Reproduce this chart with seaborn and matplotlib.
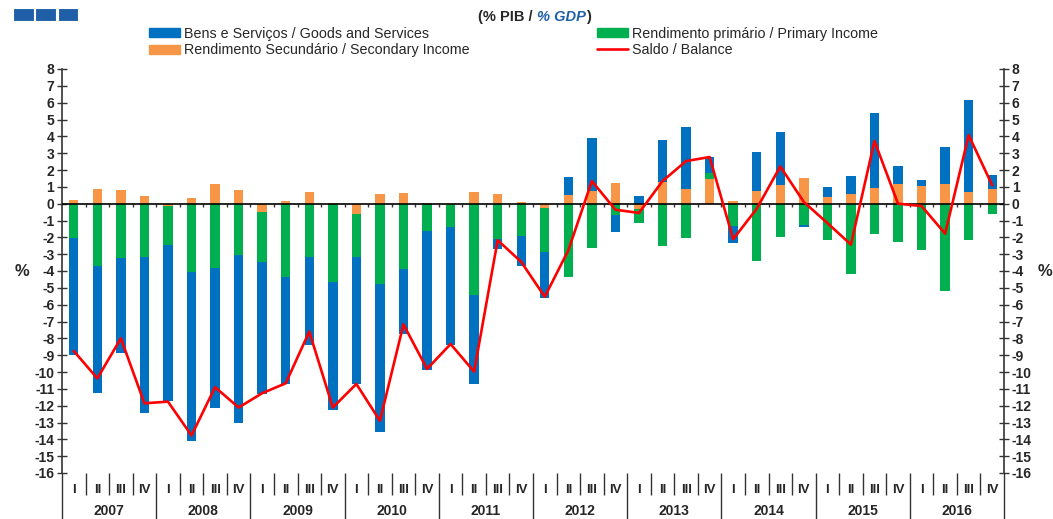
import matplotlib
matplotlib.use('Agg')
import matplotlib.pyplot as plt
import matplotlib.patches as mpatches
import matplotlib.lines as mlines
import matplotlib.transforms as mtrans
import seaborn as sns
import numpy as np

# quarterly current account components, % of GDP, 2007 Q1 - 2016 Q4
years = ['2007', '2008', '2009', '2010', '2011', '2012', '2013', '2014', '2015', '2016']
quarters = ['I', 'II', 'III', 'IV']

goods = [-6.96, -7.53, -5.65, -9.27, -9.27, -10.06, -8.26, -9.94, -7.84, -6.36,
         -5.26, -7.61, -7.57, -8.80, -3.86, -8.24, -7.02, -5.28, -0.58, -1.80,
         -2.70, 1.09, 3.18, -0.97, 0.47, 2.51, 3.68, 0.95, -1.01, 2.35,
         3.14, -0.12, 0.59, 1.07, 4.45, 1.06, 0.35, 2.21, 5.48, 0.83]
primary = [-2.04, -3.73, -3.20, -3.14, -2.35, -4.03, -3.85, -3.06, -3.01, -4.35,
           -3.14, -4.64, -2.55, -4.76, -3.91, -1.64, -1.28, -5.43, -2.11, -1.92,
           -2.61, -4.33, -2.63, -0.69, -0.79, -2.51, -2.04, 0.36, -1.32, -3.42,
           -1.98, -1.26, -2.15, -4.15, -1.78, -2.27, -2.75, -5.20, -2.13, -0.63]
secondary = [0.20, 0.85, 0.79, 0.47, -0.12, 0.32, 1.15, 0.79, -0.47, 0.14,
             0.67, 0.06, -0.59, 0.55, 0.61, 0.02, -0.10, 0.67, 0.55, 0.12,
             -0.28, 0.49, 0.73, 1.25, -0.34, 1.28, 0.85, 1.46, 0.18, 0.73,
             1.09, 1.50, 0.38, 0.55, 0.93, 1.17, 1.05, 1.17, 0.69, 0.85]
balance = [-8.75, -10.38, -8.00, -11.86, -11.76, -13.77, -10.90, -12.11, -11.26, -10.67,
           -7.60, -12.11, -10.71, -12.90, -7.17, -9.82, -8.34, -9.98, -2.17, -3.46,
           -5.53, -2.77, 1.34, -0.36, -0.55, 1.34, 2.53, 2.77, -2.11, -0.30,
           2.21, 0.10, -1.15, -2.43, 3.72, 0.00, -0.14, -1.78, 4.07, 1.09]

c_goods = '#0070C0'
c_prim = '#00B050'
c_sec = '#F79646'
c_bal = '#FF0000'

sns.set_style('white')
plt.rcParams['font.family'] = ['Liberation Sans', 'DejaVu Sans']
plt.rcParams['axes.unicode_minus'] = False
narrow = ['Liberation Sans Narrow', 'Liberation Sans', 'DejaVu Sans']

W, H = 1053, 519
fig = plt.figure(figsize=(W / 100, H / 100), dpi=100)
ax = fig.add_axes([62 / W, 1 - 473 / H, (1004 - 62) / W, (473 - 69) / H])

n = len(goods)
idx = np.arange(n)

# stacked bars: positives go up from 0, negatives go down from 0
pos_base = np.zeros(n)
neg_base = np.zeros(n)
for vals, col in [(secondary, c_sec), (primary, c_prim), (goods, c_goods)]:
    vals = np.array(vals)
    bottoms = np.where(vals >= 0, pos_base, neg_base)
    sns.barplot(x=idx, y=vals, bottom=bottoms, color=col, saturation=1, width=0.4,
                errorbar=None, ax=ax, zorder=2, linewidth=0)
    pos_base = pos_base + np.where(vals > 0, vals, 0)
    neg_base = neg_base + np.where(vals < 0, vals, 0)

sns.lineplot(x=idx, y=balance, color=c_bal, linewidth=1.9, ax=ax, zorder=4)

ax.axhline(0, color='black', lw=1.2, zorder=3)
ax.vlines(idx[:-1] + 0.5, -0.22, 0, color='#333333', lw=1, zorder=1)

ax.set_xlim(-0.5, n - 0.5)
ax.set_ylim(-16, 8)
ax.set_yticks(range(-16, 9))
ax.set_xticks([])
ax.set_xlabel('')
ax.set_ylabel('')
for s in ['top', 'bottom']:
    ax.spines[s].set_visible(False)
for s in ['left', 'right']:
    ax.spines[s].set_color('#333333')
    ax.spines[s].set_linewidth(1.2)
ax.tick_params(axis='y', which='both', left=True, right=True, labelright=True,
               direction='inout', length=7, width=1, color='#333333',
               labelsize=10, pad=2)
for lab in ax.get_yticklabels():
    lab.set_fontweight('bold')

# quarter / year axis below the plot
trans = mtrans.blended_transform_factory(ax.transData, ax.transAxes)
bounds = np.arange(n + 1) - 0.5
q_lines = [b for i, b in enumerate(bounds) if i % 4 != 0]
y_lines = [b for i, b in enumerate(bounds) if i % 4 == 0]
ax.vlines(q_lines, -22 / 404, 0, color='#333333', lw=1, transform=trans, clip_on=False)
ax.vlines(y_lines, -60 / 404, 0, color='#333333', lw=1, transform=trans, clip_on=False)
for i in idx:
    ax.text(i, -17 / 404, quarters[i % 4], transform=trans, ha='center', va='center',
            fontsize=9.5, fontweight='bold')
for k, yr in enumerate(years):
    ax.text(4 * k + 1.5, -38 / 404, yr, transform=trans, ha='center', va='center',
            fontsize=10, fontweight='bold')

fig.text(22 / W, 1 - 272 / H, '%', ha='center', va='center', fontsize=12, fontweight='bold')
fig.text(1045 / W, 1 - 272 / H, '%', ha='center', va='center', fontsize=12, fontweight='bold')

# title
t1 = fig.text(478 / W, 1 - 17 / H, '(% PIB / ', ha='left', va='center',
              fontsize=10.5, fontweight='bold', family=narrow)
t2 = ax.annotate('% GDP', xy=(1, 0), xycoords=t1, va='bottom', ha='left',
                 fontsize=10.5, fontweight='bold', style='italic', color='#1F5FA8',
                 family=narrow, annotation_clip=False)
ax.annotate(')', xy=(1, 0), xycoords=t2, va='bottom', ha='left',
            fontsize=10.5, fontweight='bold', family=narrow, annotation_clip=False)

# logo squares
for k in range(3):
    fig.patches.append(mpatches.Rectangle(((13 + 22.3 * k) / W, 1 - 21 / H), 20.5 / W, 13 / H,
                                          transform=fig.transFigure, facecolor='#1F5FA8',
                                          edgecolor='white', lw=0.8))

# legend, two columns
h_goods = mpatches.Patch(color=c_goods, label='Bens e Serviços / Goods and Services')
h_sec = mpatches.Patch(color=c_sec, label='Rendimento Secundário / Secondary Income')
h_prim = mpatches.Patch(color=c_prim, label='Rendimento primário / Primary Income')
h_bal = mlines.Line2D([], [], color=c_bal, lw=1.9, label='Saldo / Balance')
leg_kw = dict(loc='upper left', frameon=False, borderpad=0, borderaxespad=0,
              handlelength=2.2, handleheight=0.6, handletextpad=0.25, labelspacing=0.15,
              prop={'family': narrow, 'size': 10.3})
fig.legend(handles=[h_goods, h_sec], bbox_to_anchor=(149 / W, 1 - 27 / H), **leg_kw)
fig.legend(handles=[h_prim, h_bal], bbox_to_anchor=(597 / W, 1 - 27 / H), **leg_kw)

fig.savefig('out.png', dpi=100)
